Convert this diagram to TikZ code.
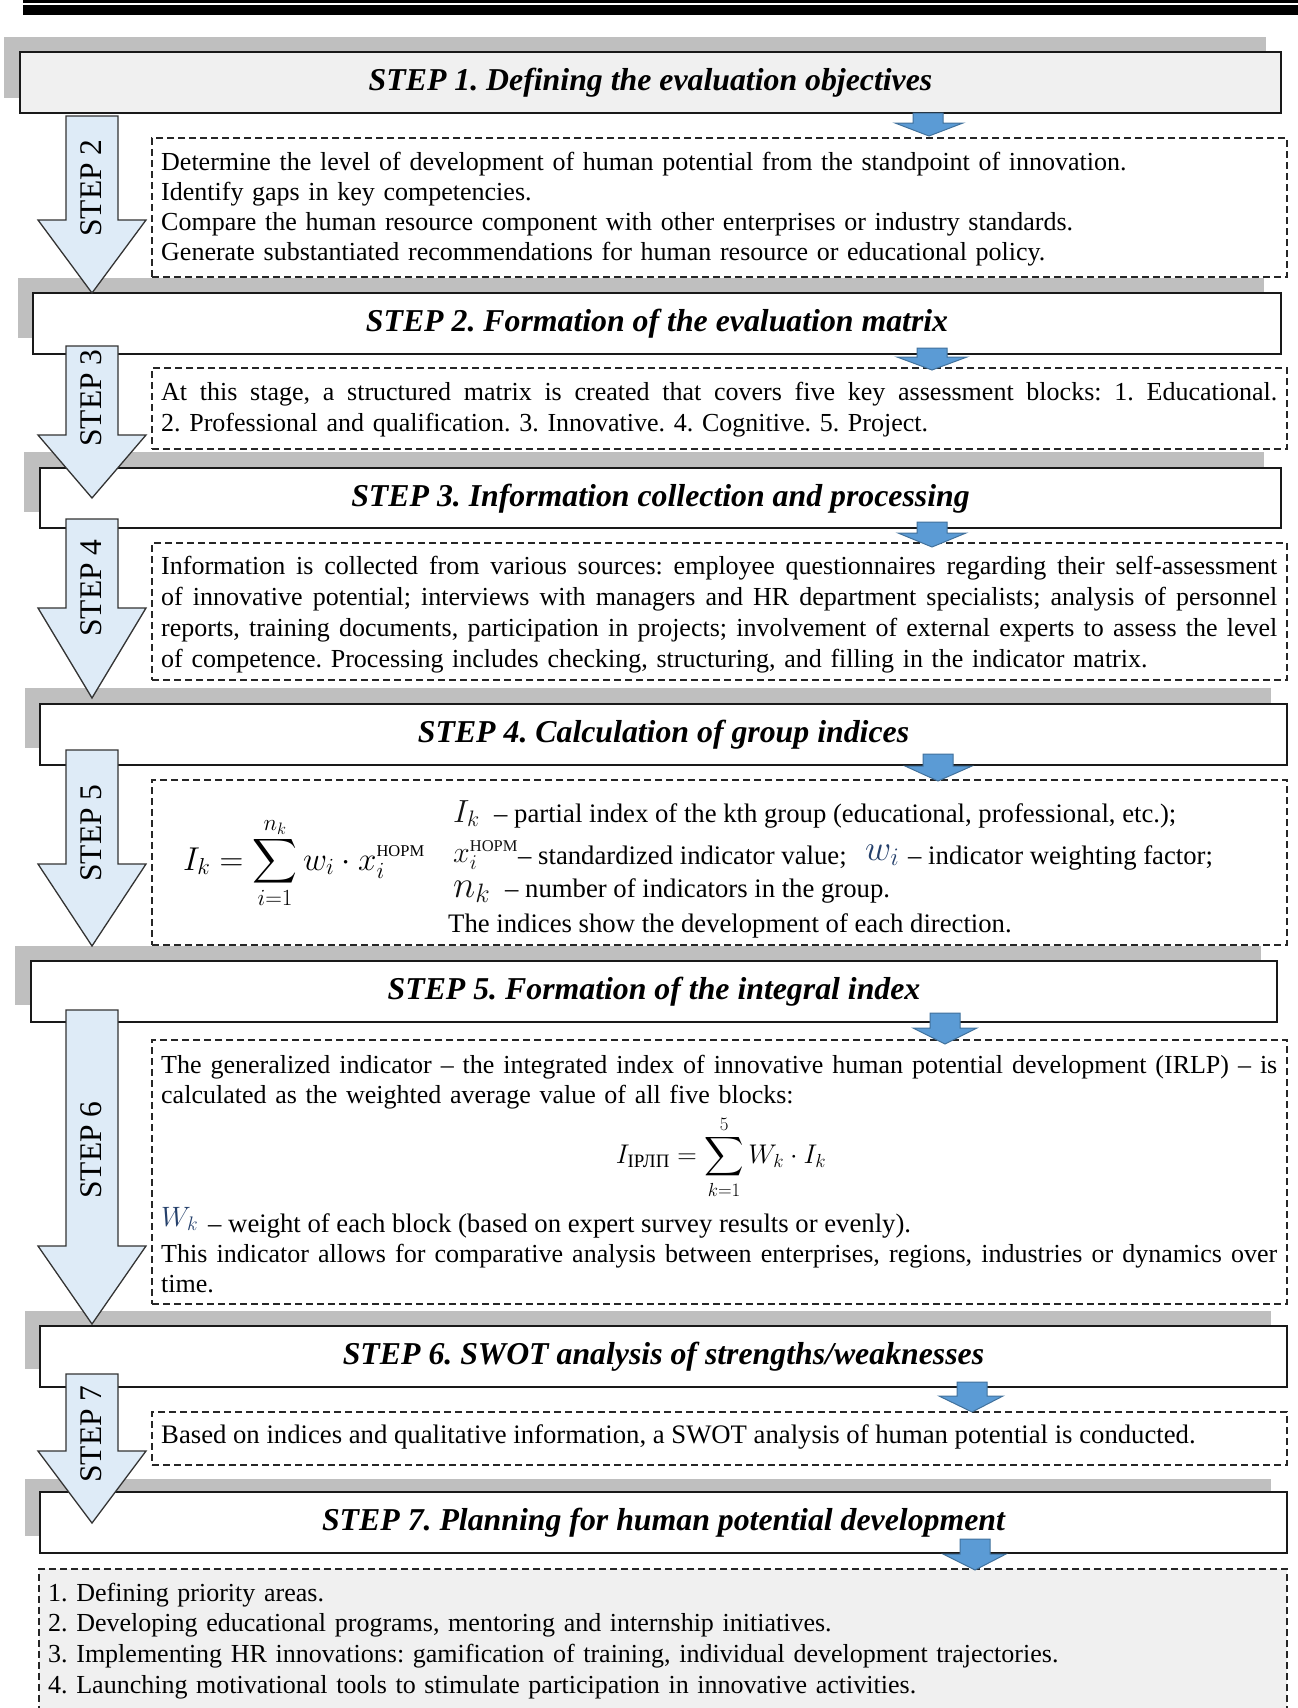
\RequirePackage{fix-cm}
\documentclass[tikz,border=0pt]{standalone}
\usepackage{graphicx}
\usepackage{amsmath}
\usepackage{exscale}
\usepackage[no-math]{fontspec}
\setmainfont{Liberation Serif}
\usetikzlibrary{calc}
\definecolor{shadowgray}{HTML}{BFBFBF}
\definecolor{lightfill}{HTML}{F0F0F0}
\definecolor{arrowfill}{HTML}{DEEBF7}
\definecolor{bluefill}{HTML}{5B9BD5}
\definecolor{blueline}{HTML}{41719C}
\definecolor{mathnavy}{HTML}{25406B}
\definecolor{mathdark}{HTML}{141414}
\newcommand{\bodyfont}{\fontsize{26}{30.4}\selectfont}
\newcommand{\legendfont}{\fontsize{26.7}{31}\selectfont}
\newcommand{\titlefont}{\fontsize{31.8}{36}\selectfont\bfseries\itshape}
\newcommand{\labelfont}{\fontsize{31.5}{36}\selectfont}
\newcommand{\stepArrow}[3]{\draw[bigarrow] (66,#1) -- (118,#1) -- (118,#2) -- (146,#2) -- (92,#3) -- (38,#2) -- (66,#2) -- cycle;}
\newcommand{\blueArrow}[8]{\draw[bluearrow] (#1,#3) -- (#2,#3) -- (#2,#4) -- (#6,#4) -- (#7,#8) -- (#5,#4) -- (#1,#4) -- cycle;}
\newcommand{\jline}[1]{{\spaceskip=0.25em plus 1.5em minus 0.05em\relax\makebox[1116pt][s]{#1}}}
\newcommand{\normsup}{\text{\fontsize{16.5}{17}\selectfont НОРМ}}
\newcommand{\scaledsum}[1]{\mathop{\vcenter{\hbox{\scalebox{#1}{$\displaystyle\sum$}}}}\limits}
\tikzset{
  shadowrect/.style={fill=shadowgray, draw=none},
  stepbox/.style={draw=black!90, line width=1.8pt, anchor=north west, inner sep=0pt, outer sep=0pt},
  dashbox/.style={draw=black!85, line width=1.4pt, dash pattern=on 7pt off 4pt, anchor=north west, inner sep=0pt, outer sep=0pt},
  bluearrow/.style={fill=bluefill, draw=blueline, line width=1pt, line join=miter},
  bigarrow/.style={fill=arrowfill, draw=black!80, line width=1.3pt},
  titletext/.style={font=\titlefont, inner sep=0pt, anchor=base},
  bodytext/.style={font=\bodyfont, inner sep=0pt, anchor=base west},
  legendtext/.style={font=\legendfont, inner sep=0pt, anchor=base west},
  mathsym/.style={inner sep=0pt, anchor=base west},
  steplabel/.style={font=\labelfont, inner sep=0pt, rotate=90},
}
\begin{document}
\frenchspacing
\begin{tikzpicture}[x=1pt, y=-1pt]
\useasboundingbox (0,0) rectangle (1298,1708);
% top rule
\fill[black] (23,0) rectangle (1298,2.7);
\fill[black] (23,5) rectangle (1298,15);
% shadows
\fill[shadowrect] (4,37) rectangle (1266,98);
\fill[shadowrect] (18,278) rectangle (1264,338);
\fill[shadowrect] (24,452) rectangle (1264,512);
\fill[shadowrect] (25,688) rectangle (1271,748);
\fill[shadowrect] (15,946) rectangle (1261,1005);
\fill[shadowrect] (25,1311) rectangle (1271,1369);
\fill[shadowrect] (25,1479) rectangle (1271,1536);
% step boxes
\node[stepbox, fill=lightfill, minimum width=1261pt, minimum height=61pt] (b1) at (20,52) {};
\node[stepbox, fill=white, minimum width=1248pt, minimum height=61pt] (b2) at (33,293) {};
\node[stepbox, fill=white, minimum width=1241pt, minimum height=60pt] (b3) at (40,468) {};
\node[stepbox, fill=white, minimum width=1247pt, minimum height=61pt] (b4) at (40,704) {};
\node[stepbox, fill=white, minimum width=1246pt, minimum height=61pt] (b5) at (31,961) {};
\node[stepbox, fill=white, minimum width=1247pt, minimum height=61pt] (b6) at (40,1326) {};
\node[stepbox, fill=white, minimum width=1247pt, minimum height=61pt] (b7) at (40,1492) {};
% dashed boxes
\node[dashbox, minimum width=1135pt, minimum height=139pt] (d1) at (152,138) {};
\node[dashbox, minimum width=1135pt, minimum height=81pt] (d2) at (152,368) {};
\node[dashbox, minimum width=1135pt, minimum height=137pt] (d3) at (152,543) {};
\node[dashbox, minimum width=1135pt, minimum height=165pt] (d4) at (152,780) {};
\node[dashbox, minimum width=1135pt, minimum height=264pt] (d5) at (152,1040) {};
\node[dashbox, minimum width=1135pt, minimum height=53pt] (d6) at (152,1412) {};
\node[dashbox, fill=lightfill, minimum width=1248pt, minimum height=150pt] (d7) at (39,1569) {};
% small blue arrows
\blueArrow{913}{943}{113}{123}{895}{963}{929}{136}
\blueArrow{917}{947}{348}{357}{897}{967}{932}{370}
\blueArrow{917}{947}{522}{533}{898}{966}{932}{547}
\blueArrow{923}{953}{754}{766}{905}{972}{938}{781}
\blueArrow{930}{960}{1013}{1028}{913}{977}{945}{1044}
\blueArrow{957}{987}{1382}{1396}{939}{1003}{972}{1412}
\blueArrow{960}{990}{1539}{1554}{943}{1006}{975}{1570}
% big step arrows
\stepArrow{116}{220}{293}
\stepArrow{346}{435}{498}
\stepArrow{519}{608}{698}
\stepArrow{750}{864}{946}
\stepArrow{1010}{1246}{1324}
\stepArrow{1374}{1451}{1523}
\node[steplabel] (l2) at (91,188) {STEP 2};
\node[steplabel] (l3) at (91,398) {STEP 3};
\node[steplabel] (l4) at (91,588) {STEP 4};
\node[steplabel] (l5) at (91,833) {STEP 5};
\node[steplabel] (l6) at (91,1150) {STEP 6};
\node[steplabel] (l7) at (91,1434) {STEP 7};
% titles
\node[titletext] (t1) at ($(b1.center)+(0,8)$) {STEP 1. Defining the evaluation objectives};
\node[titletext] (t2) at ($(b2.center)+(0,8)$) {STEP 2. Formation of the evaluation matrix};
\node[titletext] (t3) at ($(b3.center)+(0,8)$) {STEP 3. Information collection and processing};
\node[titletext] (t4) at ($(b4.center)+(0,8)$) {STEP 4. Calculation of group indices};
\node[titletext] (t5) at ($(b5.center)+(0,8)$) {STEP 5. Formation of the integral index};
\node[titletext] (t6) at ($(b6.center)+(0,8)$) {STEP 6. SWOT analysis of strengths/weaknesses};
\node[titletext] (t7) at ($(b7.center)+(0,8)$) {STEP 7. Planning for human potential development};
% box 1 text
\node[bodytext, text width=1120pt, font=\fontsize{26}{30}\selectfont] (x1) at (161,170) {Determine the level of development of human potential from the standpoint of innovation.\\
Identify gaps in key competencies.\\
Compare the human resource component with other enterprises or industry standards.\\
Generate substantiated recommendations for human resource or educational policy.};
% box 2 text
\node[bodytext, text width=1120pt, font=\fontsize{26}{31.7}\selectfont] (x2) at (161,400) {\jline{At this stage, a structured matrix is created that covers five key assessment blocks: 1. Educational.}\\
2. Professional and qualification. 3. Innovative. 4. Cognitive. 5. Project.};
% box 3 text
\node[bodytext, text width=1120pt, font=\fontsize{26}{31}\selectfont] (x3) at (161,574) {\jline{Information is collected from various sources: employee questionnaires regarding their self-assessment}\\
\jline{of innovative potential; interviews with managers and HR department specialists; analysis of personnel}\\
\jline{reports, training documents, participation in projects; involvement of external experts to assess the level}\\
of competence. Processing includes checking, structuring, and filling in the indicator matrix.};
% box 4 formula and legend
\node[mathsym, font=\fontsize{33}{38}\selectfont] (f1) at (183,870) {$\displaystyle I_k=\scaledsum{1.25}_{i=1}^{n_k} w_i\cdot x_i^{\normsup}$};
\node[mathsym, font=\fontsize{32}{36}\selectfont, text=mathdark] (m1) at (453,822) {$I_k$};
\node[legendtext] (r1) at (494,822) {– partial index of the kth group (educational, professional, etc.);};
\node[mathsym, font=\fontsize{30}{36}\selectfont, text=mathdark] (m2) at (453,862) {$x_i^{\normsup}$};
\node[legendtext] (r2) at (518,864) {– standardized indicator value;};
\node[mathsym, font=\fontsize{36}{40}\selectfont, text=mathnavy] (m2w) at (865,860) {$w_i$};
\node[legendtext] (r2w) at (908,864) {– indicator weighting factor;};
\node[mathsym, font=\fontsize{38}{42}\selectfont, text=mathdark] (m3) at (453,897) {$n_k$};
\node[legendtext] (r3) at (505,897) {– number of indicators in the group.};
\node[legendtext] (r4) at (448,932) {The indices show the development of each direction.};
% box 5 text
\node[bodytext, text width=1120pt, font=\fontsize{26}{30}\selectfont] (x5a) at (161,1073) {\jline{The generalized indicator – the integrated index of innovative human potential development (IRLP) – is}\\
calculated as the weighted average value of all five blocks:};
\node[inner sep=0pt, font=\fontsize{27}{32}\selectfont] (f2) at (721,1157) {$\displaystyle I_{\text{ІРЛП}}=\scaledsum{1.1}_{k=1}^{5} W_k\cdot I_k$};
\node[mathsym, font=\fontsize{28}{32}\selectfont, text=mathnavy] (m5) at (161,1226) {$W_k$};
\node[legendtext] (x5b) at (208,1232) {– weight of each block (based on expert survey results or evenly).};
\node[bodytext, text width=1120pt, font=\fontsize{26}{30}\selectfont] (x5c) at (161,1262) {\jline{This indicator allows for comparative analysis between enterprises, regions, industries or dynamics over}\\
time.};
% box 6 text
\node[legendtext] (x6) at (161,1443) {Based on indices and qualitative information, a SWOT analysis of human potential is conducted.};
% final list
\node[bodytext, text width=1200pt, font=\fontsize{26}{30.8}\selectfont] (x7) at (48,1601) {1. Defining priority areas.\\
2. Developing educational programs, mentoring and internship initiatives.\\
3. Implementing HR innovations: gamification of training, individual development trajectories.\\
4. Launching motivational tools to stimulate participation in innovative activities.};
\end{tikzpicture}
\end{document}
